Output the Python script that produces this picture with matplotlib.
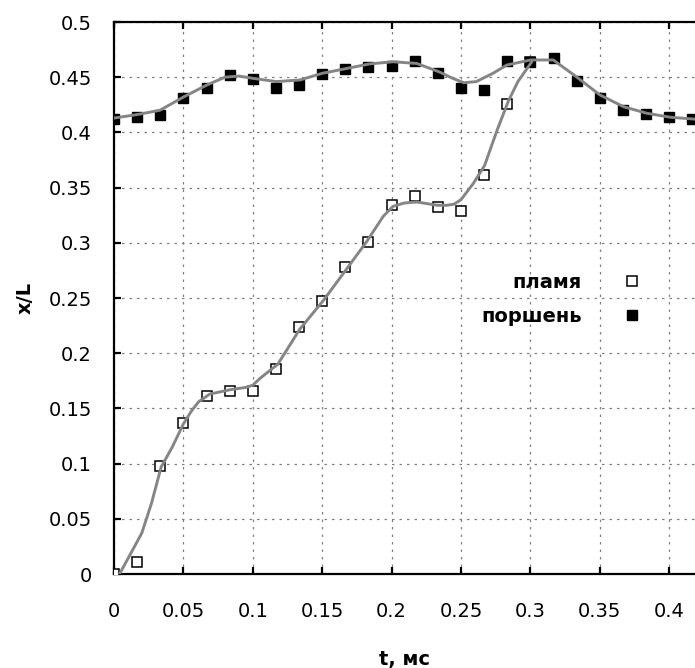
import matplotlib
matplotlib.use("Agg")
import matplotlib.pyplot as plt

# ---- data ----
flame_t = [0.0, 0.0167, 0.0333, 0.05, 0.0667, 0.0833, 0.1, 0.1167, 0.1333, 0.15,
           0.1667, 0.1833, 0.2, 0.2167, 0.2333, 0.25, 0.2667, 0.2833, 0.3]
flame_x = [0.0, 0.011, 0.098, 0.137, 0.161, 0.166, 0.166, 0.186, 0.224, 0.247,
           0.278, 0.301, 0.334, 0.342, 0.332, 0.329, 0.361, 0.426, 0.464]

piston_t = [0.0, 0.0167, 0.0333, 0.05, 0.0667, 0.0833, 0.1, 0.1167, 0.1333, 0.15,
            0.1667, 0.1833, 0.2, 0.2167, 0.2333, 0.25, 0.2667, 0.2833, 0.3, 0.3167,
            0.3333, 0.35, 0.3667, 0.3833, 0.4, 0.4167]
piston_x = [0.412, 0.414, 0.416, 0.431, 0.440, 0.452, 0.448, 0.440, 0.443, 0.453,
            0.457, 0.459, 0.460, 0.465, 0.454, 0.440, 0.438, 0.465, 0.464, 0.467,
            0.447, 0.431, 0.420, 0.417, 0.414, 0.412]

# smooth fitted curves as drawn in the reference
flame_curve_t = [0.004, 0.020, 0.027, 0.034, 0.042, 0.050, 0.056, 0.061, 0.069, 0.084,
                 0.095, 0.100, 0.105, 0.118, 0.134, 0.151, 0.168, 0.182, 0.194, 0.201,
                 0.209, 0.218, 0.233, 0.240, 0.245, 0.250, 0.259, 0.267, 0.276, 0.284,
                 0.291, 0.301]
flame_curve_x = [0.000, 0.037, 0.064, 0.097, 0.115, 0.136, 0.148, 0.156, 0.163, 0.167,
                 0.169, 0.171, 0.177, 0.190, 0.222, 0.248, 0.277, 0.301, 0.324, 0.333,
                 0.336, 0.337, 0.334, 0.334, 0.335, 0.339, 0.354, 0.370, 0.402, 0.428,
                 0.446, 0.464]

piston_curve_t = [0.000, 0.016, 0.033, 0.050, 0.067, 0.080, 0.090, 0.100, 0.117, 0.134,
                  0.150, 0.168, 0.184, 0.201, 0.212, 0.218, 0.234, 0.244, 0.252, 0.261,
                  0.273, 0.283, 0.300, 0.3165, 0.333, 0.350, 0.367, 0.384, 0.401, 0.4186]
piston_curve_x = [0.413, 0.416, 0.420, 0.432, 0.443, 0.450, 0.451, 0.449, 0.446, 0.4475,
                  0.4535, 0.458, 0.462, 0.464, 0.463, 0.4625, 0.455, 0.449, 0.445, 0.446,
                  0.4535, 0.461, 0.4656, 0.4656, 0.4505, 0.434, 0.4233, 0.4173, 0.4137, 0.412]

xticks = [0, 0.05, 0.1, 0.15, 0.2, 0.25, 0.3, 0.35, 0.4]
xtick_labels = ["0", "0.05", "0.1", "0.15", "0.2", "0.25", "0.3", "0.35", "0.4"]
yticks = [0, 0.05, 0.1, 0.15, 0.2, 0.25, 0.3, 0.35, 0.4, 0.45, 0.5]
ytick_labels = ["0", "0.05", "0.1", "0.15", "0.2", "0.25", "0.3", "0.35", "0.4", "0.45", "0.5"]

labels = ["пламя", "поршень"]

# ---- figure ----
W, H = 695, 668
fig = plt.figure(figsize=(W / 100, H / 100), dpi=100)
ax = fig.add_axes([114 / W, (H - 574) / H, (W - 114) / W, (574 - 22) / H])

line_color = "#858585"
ax.plot(flame_t, flame_x, linestyle="none", marker="s", ms=7, mfc="white",
        mec="black", mew=1.1, label=labels[0], zorder=3)
ax.plot(piston_t, piston_x, linestyle="none", marker="s", ms=7.5, mfc="black",
        mec="black", mew=1.0, label=labels[1], zorder=3)
ax.plot(flame_curve_t, flame_curve_x, color=line_color, lw=2.1, zorder=4,
        solid_joinstyle="round", solid_capstyle="round")
ax.plot(piston_curve_t, piston_curve_x, color=line_color, lw=2.1, zorder=4,
        solid_joinstyle="round", solid_capstyle="round")

ax.set_xlim(0, 0.4186)
ax.set_ylim(0, 0.5)
ax.set_xticks(xticks)
ax.set_xticklabels(xtick_labels)
ax.set_yticks(yticks)
ax.set_yticklabels(ytick_labels)

ax.grid(True, color="#808080", linestyle=(0, (2, 4)), linewidth=0.9)
ax.set_axisbelow(True)

for side in ["left", "bottom", "top"]:
    ax.spines[side].set_linewidth(1.6)
ax.spines["right"].set_visible(False)

ax.tick_params(axis="both", direction="in", length=5, width=1.6,
               labelsize=14, top=True, right=False)
ax.tick_params(axis="x", pad=20)
ax.tick_params(axis="y", pad=16)

ax.set_xlabel("t, мс", fontsize=14, fontweight="bold", labelpad=21)
ax.set_ylabel("x/L", fontsize=14, fontweight="bold", labelpad=10)

leg = ax.legend(loc="upper right", bbox_to_anchor=((642 - 114) / (W - 114), (574 - 273) / (574 - 22)),
                frameon=False, markerfirst=False, handlelength=1.0, handletextpad=2.1,
                labelspacing=0.75, borderpad=0, borderaxespad=0,
                prop={"size": 14, "weight": "bold"})

fig.savefig("out.png", dpi=100)
